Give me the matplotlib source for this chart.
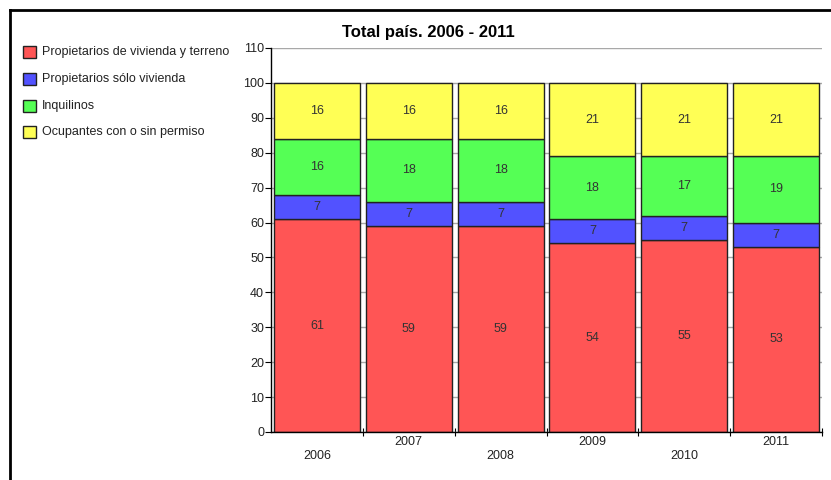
import matplotlib
matplotlib.use('Agg')
import matplotlib.pyplot as plt
from matplotlib.patches import Rectangle
from matplotlib.lines import Line2D
import numpy as np

plt.rcParams['font.family'] = ['Liberation Sans', 'DejaVu Sans']

years = ['2006', '2007', '2008', '2009', '2010', '2011']
series_names = ['Propietarios de vivienda y terreno', 'Propietarios sólo vivienda',
                'Inquilinos', 'Ocupantes con o sin permiso']
prop_viv_terreno = [61, 59, 59, 54, 55, 53]
prop_solo_viv = [7, 7, 7, 7, 7, 7]
inquilinos = [16, 18, 18, 18, 17, 19]
ocupantes = [16, 16, 16, 21, 21, 21]
colors = ['#ff5555', '#5252ff', '#55ff55', '#ffff55']

fig = plt.figure(figsize=(8.31, 4.8), dpi=100)
ax = fig.add_axes([271 / 831, 48 / 480, 551 / 831, 384 / 480])

x = np.arange(len(years))
bottom = np.zeros(len(years))
for vals, col in zip([prop_viv_terreno, prop_solo_viv, inquilinos, ocupantes], colors):
    vals = np.array(vals)
    ax.bar(x, vals, width=0.935, bottom=bottom, color=col, edgecolor='#222222',
           linewidth=1, zorder=2)
    for xi, b, v in zip(x, bottom, vals):
        ax.text(xi, b + v / 2, str(v), ha='center', va='center', fontsize=9,
                color='#333333', zorder=3)
    bottom += vals

ax.set_xlim(-0.5, 5.5)
ax.set_ylim(0, 110)
ax.set_yticks(range(0, 111, 10))
ax.tick_params(axis='y', labelsize=9, length=4, width=0.8, pad=1, labelcolor='#222222')
ax.yaxis.grid(True, color='#a8a8a8', linewidth=1, zorder=0)
ax.set_axisbelow(True)

# ticks at the category boundaries, labels staggered
ax.set_xticks(np.arange(0.5, 6, 1))
ax.set_xticklabels([])
ax.tick_params(axis='x', direction='inout', length=6, width=0.8)
for i, yr in enumerate(years):
    off = -0.027 if i % 2 == 1 else -0.063
    ax.text(i, off, yr, transform=ax.get_xaxis_transform(), ha='center', va='center',
            fontsize=9, color='#222222')

for s in ['top', 'right']:
    ax.spines[s].set_visible(False)
ax.spines['left'].set_linewidth(1)
ax.spines['bottom'].set_linewidth(1)

fig.text(428 / 831, 1 - 32 / 480, 'Total país. 2006 - 2011', ha='center', va='center',
         fontsize=12, fontweight='bold')

# legend at left
rows = [52, 79, 106, 132]
for name, col, yy in zip(series_names, colors, rows):
    fig.patches.append(Rectangle((23 / 831, 1 - (yy + 6) / 480), 13 / 831, 12 / 480,
                                 transform=fig.transFigure, facecolor=col,
                                 edgecolor='#222222', linewidth=1))
    fig.text(42 / 831, 1 - yy / 480, name, ha='left', va='center', fontsize=9,
             color='#222222')

# outer frame lines (left and top)
fig.lines.append(Line2D([10 / 831, 10 / 831], [0, 1 - 10 / 480], transform=fig.transFigure,
                        color='black', linewidth=2))
fig.lines.append(Line2D([10 / 831, 1], [1 - 10 / 480, 1 - 10 / 480], transform=fig.transFigure,
                        color='black', linewidth=2))

fig.savefig('out.png', dpi=100)
